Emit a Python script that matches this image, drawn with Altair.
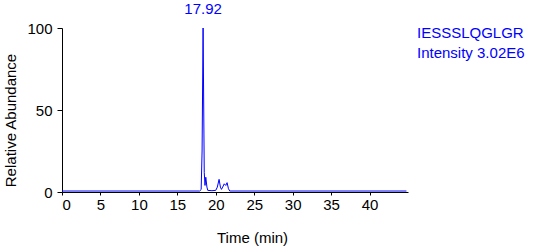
import altair as alt
import pandas as pd

times = [0.0, 17.9, 18.1, 18.22, 18.35, 18.5, 18.6, 18.7, 18.85, 18.96, 19.5, 20.0, 20.2, 20.43, 20.6, 20.74, 20.9, 21.1, 21.3, 21.47, 21.65, 21.82, 44.8]
abund = [0.6, 0.6, 1.5, 25.0, 100.0, 12.0, 4.0, 9.0, 3.0, 1.0, 0.8, 1.0, 3.0, 7.7, 3.0, 1.6, 3.0, 5.0, 4.0, 5.7, 2.0, 0.6, 0.6]

peak_label = "17.92"
peak_time = 18.35
info_lines = ["IESSSLQGLGR", "Intensity 3.02E6"]
x_ticks = [0, 5, 10, 15, 20, 25, 30, 35, 40]
y_ticks = [0, 50, 100]

FONT = "Liberation Sans"
BLUE = "#0000ff"

df = pd.DataFrame({"t": times, "a": abund})

line = alt.Chart(df).mark_line(color=BLUE, strokeWidth=1, clip=False).encode(
    x=alt.X("t:Q", scale=alt.Scale(domain=[0, 45], nice=False),
            axis=alt.Axis(values=x_ticks, title="Time (min)", grid=False,
                          tickSize=3, labelPadding=2, labelFontSize=15,
                          titleFontSize=15, titleFontWeight="normal",
                          titleX=190, titleY=45, titleBaseline="middle",
                          titleAlign="center")),
    y=alt.Y("a:Q", scale=alt.Scale(domain=[0, 100], nice=False),
            axis=alt.Axis(values=y_ticks, title="Relative Abundance", grid=False,
                          tickSize=5, labelPadding=5, labelFontSize=15,
                          titleFontSize=15, titleFontWeight="normal",
                          titleX=-52, titleY=92, titleAngle=-90,
                          titleBaseline="middle", titleAlign="center")),
)

lab_df = pd.DataFrame({"t": [peak_time], "label": [peak_label]})
peak_text = alt.Chart(lab_df).mark_text(color=BLUE, font=FONT, fontSize=15,
                                        baseline="middle", align="center").encode(
    x="t:Q", y=alt.value(-19), text="label:N")

info_df = pd.DataFrame({"label": info_lines, "yy": [5, 25]})
info_text = alt.Chart(info_df).mark_text(color=BLUE, font=FONT, fontSize=15,
                                         baseline="middle", align="left").encode(
    x=alt.value(355), y=alt.Y("yy:Q", scale=None), text="label:N")

chart = alt.layer(line, peak_text, info_text).properties(
    width=346, height=164,
    autosize=alt.AutoSizeParams(type="none"),
    padding={"left": 62, "top": 28, "right": 127, "bottom": 58},
).configure_view(stroke=None).configure_axis(
    domainColor="black", tickColor="black", labelColor="black", titleColor="black",
    labelFont=FONT, titleFont=FONT,
)

chart.save("out.html", embed_options={"renderer": "svg", "actions": False})
